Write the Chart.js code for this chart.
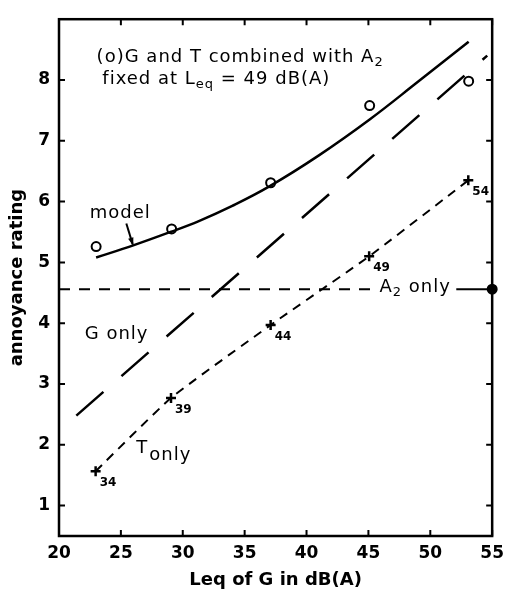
<!DOCTYPE html>
<html><head><meta charset="utf-8">
<script src="https://cdn.jsdelivr.net/npm/chart.js@4.4.0/dist/chart.umd.min.js"></script>
<style>html,body{margin:0;padding:0;background:#fff;}</style>
</head><body>
<canvas id="c" width="511" height="593"></canvas>
<script>
// ---- data ----
const xTicks = [20, 25, 30, 35, 40, 45, 50, 55];
const yTicks = [1, 2, 3, 4, 5, 6, 7, 8];

// model (smooth curve) and measured circles
const modelCurveX = [23, 26, 29, 31.3, 34, 37, 41, 45.1, 49, 53.1];
const modelCurveY = [5.08, 5.28, 5.50, 5.68, 5.93, 6.25, 6.76, 7.35, 7.97, 8.63];
const modelPtsX = [23, 29.1, 37.1, 45.1, 53.1];
const modelPtsY = [5.26, 5.55, 6.31, 7.58, 7.98];

// G only (long dashed straight line)
const gOnlyX = [21.4, 54.6];
const gOnlyY = [2.48, 8.40];

// T only (short dashed, + markers, labelled with T level)
const tOnlyX = [22.96, 29.05, 37.1, 45.06, 53.07];
const tOnlyY = [1.565, 2.77, 3.97, 5.10, 6.35];
const tLabels = ['34', '39', '44', '49', '54'];

// A2 only (horizontal level)
const a2Level = 4.56;
const a2DashX = [20, 45.4];
const a2SolidX = [52.1, 55];

const toPts = (xs, ys) => xs.map((v, i) => ({x: v, y: ys[i]}));
const FONT = "'DejaVu Sans', sans-serif";

// draw a run of [text, isSubscript] parts starting at (x, y)
function drawRuns(ctx, runs, x, y) {
  let cx = x;
  runs.forEach(([t, sub]) => {
    ctx.font = (sub ? "13px " : "18px ") + FONT;
    ctx.fillText(t, cx, y + (sub ? 5 : 0));
    cx += ctx.measureText(t).width;
  });
  return cx;
}

const decor = {
  id: 'decor',
  afterDatasetsDraw(chart) {
    const {ctx, chartArea: a, scales: {x, y}} = chart;
    const P = (xv, yv) => [x.getPixelForValue(xv), y.getPixelForValue(yv)];
    ctx.save();
    ctx.strokeStyle = '#000';
    ctx.fillStyle = '#000';
    // frame
    ctx.lineWidth = 2.5;
    ctx.strokeRect(a.left, a.top, a.right - a.left, a.bottom - a.top);
    // inside ticks on all four sides
    ctx.lineWidth = 2;
    ctx.beginPath();
    x.ticks.forEach(t => {
      const px = x.getPixelForValue(t.value);
      ctx.moveTo(px, a.bottom); ctx.lineTo(px, a.bottom - 6);
      ctx.moveTo(px, a.top); ctx.lineTo(px, a.top + 6);
    });
    y.ticks.forEach(t => {
      const py = y.getPixelForValue(t.value);
      ctx.moveTo(a.left, py); ctx.lineTo(a.left + 6, py);
      ctx.moveTo(a.right, py); ctx.lineTo(a.right - 6, py);
    });
    ctx.stroke();

    // text annotations
    ctx.textBaseline = 'middle';
    ctx.textAlign = 'left';
    try { ctx.letterSpacing = '1px'; } catch (e) {}
    let p = P(23.04, 8.37);
    drawRuns(ctx, [['(o)G and T combined with A', false], ['2', true]], p[0], p[1]);
    p = P(23.5, 8.01);
    drawRuns(ctx, [['fixed at L', false], ['eq', true], [' = 49 dB(A)', false]], p[0], p[1]);

    ctx.font = "18px " + FONT;
    p = P(22.48, 5.80);
    ctx.fillText('model', p[0], p[1]);
    p = P(22.08, 3.81);
    ctx.fillText('G only', p[0], p[1]);
    p = P(26.25, 1.95);
    ctx.fillText('T', p[0], p[1]);
    p = P(27.3, 1.82);
    ctx.fillText('only', p[0], p[1]);

    // A2 only label
    p = P(45.9, a2Level + 0.03);
    drawRuns(ctx, [['A', false], ['2', true], [' only', false]], p[0], p[1]);

    // arrow under "model"
    const s = P(25.44, 5.64), e = P(25.95, 5.30);
    ctx.lineWidth = 2;
    ctx.beginPath(); ctx.moveTo(s[0], s[1]); ctx.lineTo(e[0], e[1]); ctx.stroke();
    const ang = Math.atan2(e[1] - s[1], e[0] - s[0]);
    ctx.beginPath();
    ctx.moveTo(e[0] + 2 * Math.cos(ang), e[1] + 2 * Math.sin(ang));
    ctx.lineTo(e[0] - 7 * Math.cos(ang - 0.4), e[1] - 7 * Math.sin(ang - 0.4));
    ctx.lineTo(e[0] - 7 * Math.cos(ang + 0.4), e[1] - 7 * Math.sin(ang + 0.4));
    ctx.closePath(); ctx.fill();

    // T level labels beside + markers
    try { ctx.letterSpacing = '0px'; } catch (e2) {}
    ctx.font = "bold 12px " + FONT;
    const meta = chart.getDatasetMeta(3);
    meta.data.forEach((pt, i) => {
      ctx.fillText(tLabels[i], pt.x + 4, pt.y + 12);
    });
    ctx.restore();
  }
};

new Chart(document.getElementById('c'), {
  type: 'scatter',
  data: {
    datasets: [
      { label: 'model', data: toPts(modelCurveX, modelCurveY), showLine: true, tension: 0.4,
        borderColor: '#000', borderWidth: 2.5, pointRadius: 0, fill: false },
      { label: 'measured', data: toPts(modelPtsX, modelPtsY), showLine: false,
        pointStyle: 'circle', pointRadius: 4.5, borderColor: '#000', borderWidth: 2,
        backgroundColor: '#fff', pointBackgroundColor: '#fff' },
      { label: 'G only', data: toPts(gOnlyX, gOnlyY), showLine: true, borderDash: [36, 24],
        borderColor: '#000', borderWidth: 2.5, pointRadius: 0 },
      { label: 'T only', data: toPts(tOnlyX, tOnlyY), showLine: true, borderDash: [9, 7], tension: 0.15,
        borderColor: '#000', borderWidth: 2, pointStyle: 'cross', pointRadius: 5,
        pointBorderWidth: 2.5, pointBorderColor: '#000' },
      { label: 'A2 only', data: a2DashX.map(v => ({x: v, y: a2Level})), showLine: true,
        borderDash: [11, 9], borderColor: '#000', borderWidth: 2, pointRadius: 0 },
      { label: 'A2 only level', data: a2SolidX.map(v => ({x: v, y: a2Level})), showLine: true,
        borderColor: '#000', borderWidth: 2, pointRadius: [0, 4.5], pointBackgroundColor: '#000',
        pointBorderColor: '#000', clip: false }
    ]
  },
  options: {
    responsive: false,
    animation: false,
    events: [],
    layout: { padding: { left: 0, top: 9, right: 14, bottom: 0 } },
    plugins: { legend: { display: false }, tooltip: { enabled: false } },
    scales: {
      x: {
        type: 'linear', min: 20, max: 55,
        afterBuildTicks: s => { s.ticks = xTicks.map(v => ({value: v})); },
        afterFit: s => { s.height = 57; },
        grid: { display: false, drawTicks: false },
        border: { display: false },
        ticks: { padding: 7, color: '#000', font: { family: FONT, size: 17, weight: 'bold' }, maxRotation: 0 },
        title: { display: true, text: 'Leq of G in dB(A)', color: '#000',
                 font: { family: FONT, size: 18, weight: 'bold' }, padding: { top: 0, bottom: 2 } }
      },
      y: {
        type: 'linear', min: 0.5, max: 9,
        afterBuildTicks: s => { s.ticks = yTicks.map(v => ({value: v})); },
        afterFit: s => { s.width = 59; },
        grid: { display: false, drawTicks: false },
        border: { display: false },
        ticks: { padding: 9, color: '#000', font: { family: FONT, size: 17, weight: 'bold' } },
        title: { display: true, text: 'annoyance rating', color: '#000',
                 font: { family: FONT, size: 18, weight: 'bold' }, padding: { top: 7, bottom: 0 } }
      }
    }
  },
  plugins: [decor]
});
</script>
</body></html>
